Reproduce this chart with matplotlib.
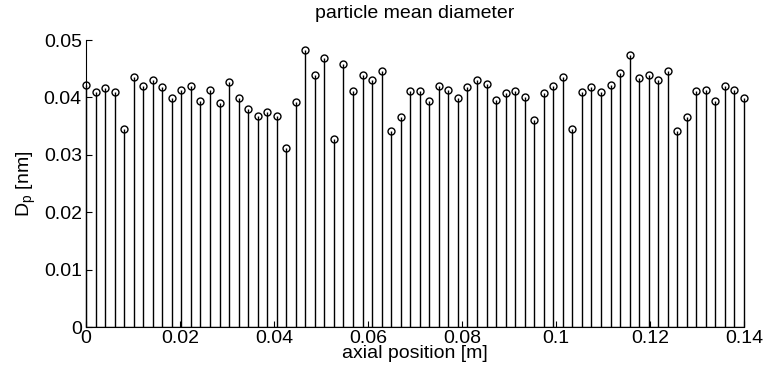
import numpy as np
import matplotlib
matplotlib.use("Agg")
import matplotlib.pyplot as plt

plt.rcParams['font.family'] = ['Liberation Sans', 'DejaVu Sans']

# axial positions: 70 samples along the reactor
x_start, x_end, n_pts = 0.0, 0.14, 70
z = np.linspace(x_start, x_end, n_pts)

# particle mean diameter
dp = [0.04221, 0.04092, 0.04168, 0.04087, 0.03443, 0.04348, 0.04197, 0.04301,
      0.04186, 0.03983, 0.04122, 0.04197, 0.03936, 0.04122, 0.03907, 0.04261,
      0.03983, 0.03797, 0.03682, 0.03751, 0.03675, 0.03110, 0.03913, 0.04829,
      0.04383, 0.04684, 0.03270, 0.04586, 0.04104, 0.04388, 0.04296, 0.04458,
      0.03409, 0.03658, 0.04110, 0.04120, 0.03936, 0.04191, 0.04122, 0.03983,
      0.04186, 0.04301, 0.04238, 0.03960, 0.04070, 0.04110, 0.04012, 0.03612,
      0.04070, 0.04197, 0.04348, 0.03443, 0.04087, 0.04174, 0.04092, 0.04221,
      0.04430, 0.04736, 0.04342, 0.04388, 0.04296, 0.04458, 0.03409, 0.03658,
      0.04110, 0.04122, 0.03936, 0.04197, 0.04122, 0.03983]

xticks = [0, 0.02, 0.04, 0.06, 0.08, 0.1, 0.12, 0.14]
xticklabels = ['0', '0.02', '0.04', '0.06', '0.08', '0.1', '0.12', '0.14']
yticks = [0, 0.01, 0.02, 0.03, 0.04, 0.05]
yticklabels = ['0', '0.01', '0.02', '0.03', '0.04', '0.05']

fig = plt.figure(figsize=(7.66, 3.76), dpi=100)
ax = fig.add_axes([0.1123, 0.1303, 0.8590, 0.7633])

markerline, stemlines, baseline = ax.stem(z, dp, linefmt='k-', markerfmt='ko', basefmt='k-')
markerline.set_markerfacecolor('none')
markerline.set_markeredgewidth(1.0)
markerline.set_markersize(5)
markerline.set_clip_on(False)
stemlines.set_linewidth(1.0)
stemlines.set_clip_on(False)
baseline.set_linewidth(1.0)

ax.set_xlim(0, 0.14)
ax.set_ylim(0, 0.05)
ax.set_xticks(xticks)
ax.set_xticklabels(xticklabels)
ax.set_yticks(yticks)
ax.set_yticklabels(yticklabels)
ax.tick_params(direction='in', length=4.5, labelsize=14, width=0.8)
ax.tick_params(axis='x', pad=2)
ax.tick_params(axis='y', pad=3)
ax.spines['top'].set_visible(False)
ax.spines['right'].set_visible(False)

ax.set_title('particle mean diameter', fontsize=14, pad=16)
ax.set_xlabel('axial position [m]', fontsize=14, labelpad=-1)
ax.set_ylabel(r'D$_\mathregular{p}$ [nm]', fontsize=14, labelpad=4)

fig.savefig('out.png', dpi=100)
